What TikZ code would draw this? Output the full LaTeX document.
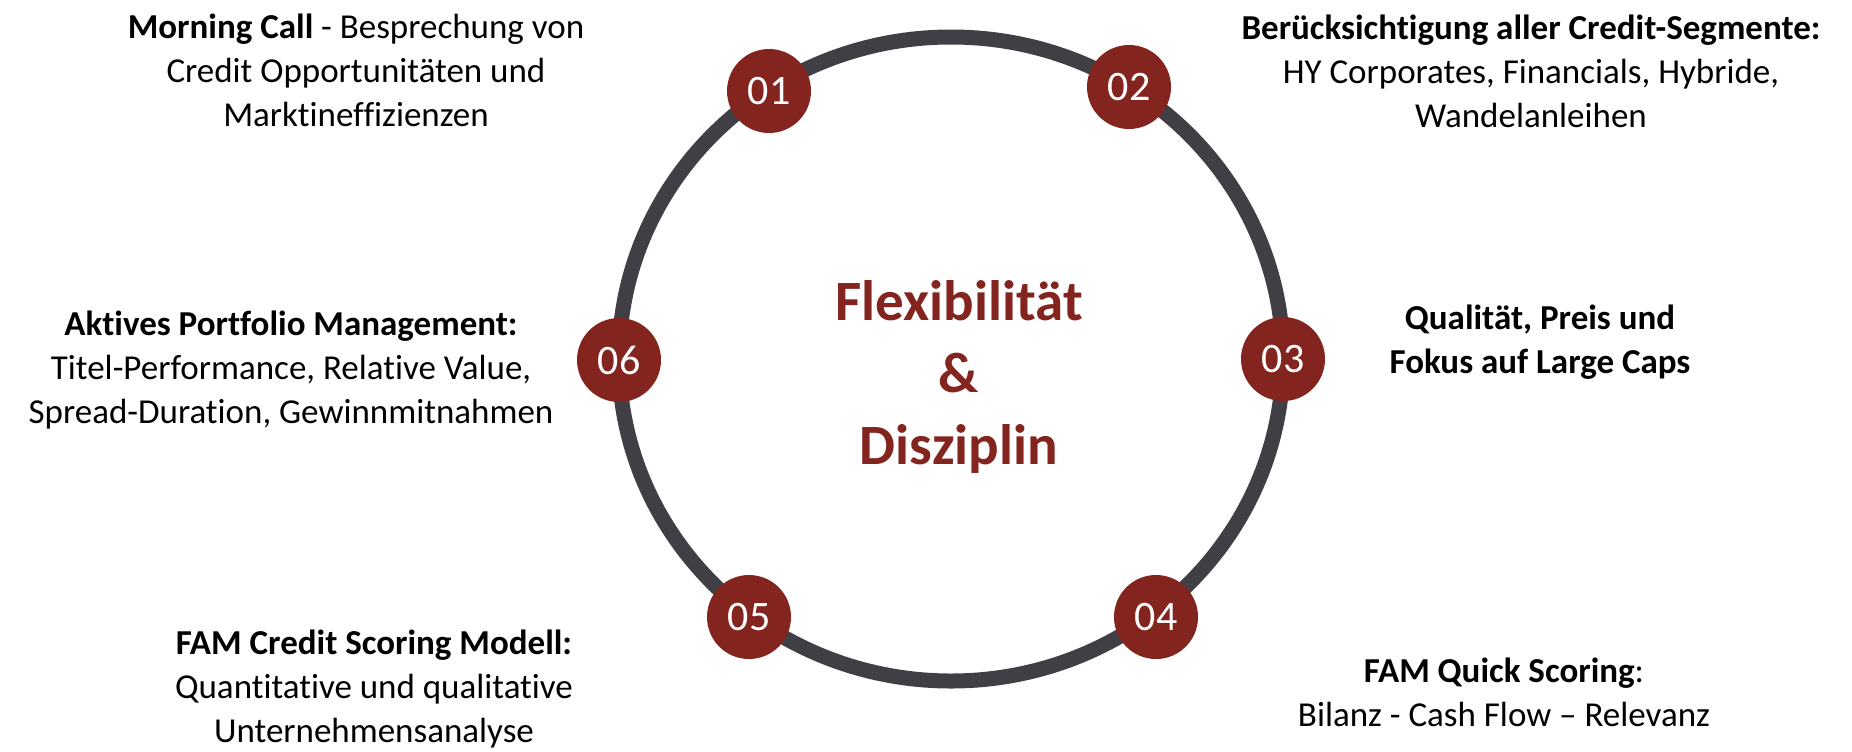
\documentclass[tikz,border=0pt]{standalone}
\usepackage{fontspec}
\setmainfont{Carlito}[Ligatures=NoCommon]
\usepackage{tikz}
\usetikzlibrary{positioning}
\definecolor{famred}{RGB}{132,36,31}
\definecolor{ringgrey}{RGB}{64,63,69}

\begin{document}
\begin{tikzpicture}[x=0.5pt, y=-0.5pt,
		ring/.style   = {draw=ringgrey, line width=7.5pt},
		marker/.style = {circle, fill=famred, text=white, minimum size=42pt, inner sep=0pt, font=\fontsize{21}{24}\selectfont},
		label/.style  = {align=center, inner sep=0pt, font=\fontsize{17.5}{22}\selectfont},
		centre/.style = {align=center, inner sep=0pt, text=famred, font=\bfseries\fontsize{28.5}{36}\selectfont}]
	
	\useasboundingbox (0,0) rectangle (1852,751);
	
	% the ring
	\coordinate (m) at (951,359);
	\draw[ring] (m) ellipse [x radius=166pt, y radius=161pt];
	
	% the numbered markers on the ring
	\node[marker] (n01) at (769,91)   {01};
	\node[marker] (n02) at (1129,87)  {02};
	\node[marker] (n03) at (1283,359) {03};
	\node[marker] (n04) at (1156,617) {04};
	\node[marker] (n05) at (749,617)  {05};
	\node[marker] (n06) at (619,360)  {06};
	
	% centre text
	\node[centre] (mid) at (959,377) {Flexibilität\\\&\\Disziplin};
	
	% descriptions round the ring
	\node[label] (t01) at (356,70)  {\textbf{Morning Call} - Besprechung von\\Credit Opportunitäten und\\Marktineffizienzen};
	\node[label] (t02) at (1531,71) {\textbf{Berücksichtigung aller Credit-Segmente:}\\HY Corporates, Financials, Hybride,\\Wandelanleihen};
	\node[label] (t03) at (1540,342) {\textbf{Qualität, Preis und}\\\textbf{Fokus auf Large Caps}};
	\node[label] (t04) at (1504,692) {\textbf{FAM Quick Scoring}:\\Bilanz - Cash Flow – Relevanz};
	\node[label] (t05) at (374,689) {\textbf{FAM Credit Scoring Modell:}\\Quantitative und qualitative\\Unternehmensanalyse};
	\node[label] (t06) at (291,370) {\textbf{Aktives Portfolio Management:}\\Titel-Performance, Relative Value,\\Spread-Duration, Gewinnmitnahmen};
	
\end{tikzpicture}
\end{document}
